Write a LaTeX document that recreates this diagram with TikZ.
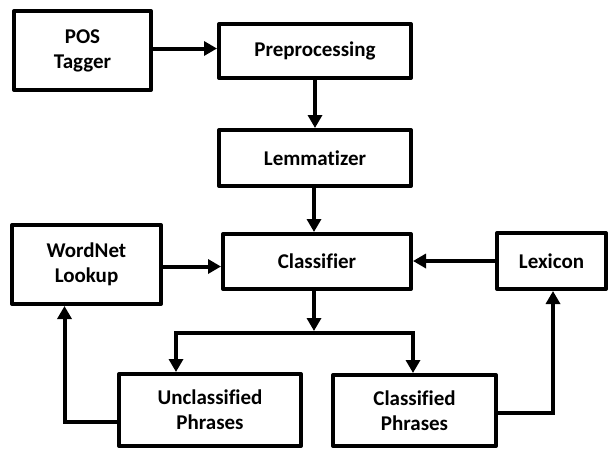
\documentclass[tikz,border=0pt]{standalone}
\usepackage{fontspec}
\setmainfont{Carlito}[Ligatures=CommonOff]
\usetikzlibrary{arrows.meta}
\begin{document}
\begin{tikzpicture}[x=1pt,y=-1pt,
  box/.style={draw, line width=4pt, line join=round, align=center, inner sep=0pt,
    font=\bfseries\fontsize{21}{25}\selectfont},
  conn/.style={line width=4pt, -{Triangle[length=13pt,width=14pt]}},
  plain/.style={line width=4pt}]
\useasboundingbox (0,0) rectangle (610,451);
\node[box, minimum width=137pt, minimum height=79pt] (pos) at (82.5,50.5) {POS\\Tagger};
\node[box, minimum width=192pt, minimum height=54pt] (pre) at (315,51) {Preprocessing};
\node[box, minimum width=192pt, minimum height=56pt] (lem) at (315,158) {Lemmatizer};
\node[box, minimum width=188pt, minimum height=55pt] (cls) at (317,261.5) {Classifier};
\node[box, minimum width=149pt, minimum height=79pt] (wn) at (86.5,264.5) {WordNet\\Lookup};
\node[box, minimum width=109pt, minimum height=56pt] (lex) at (551.5,261) {Lexicon};
\node[box, minimum width=182pt, minimum height=72pt] (unc) at (210,410) {Unclassified\\Phrases};
\node[box, minimum width=163pt, minimum height=71pt] (cp) at (414.5,410.5) {Classified\\Phrases};
\coordinate (br) at (314,333);
\coordinate (brl) at (176,333);
\coordinate (brr) at (413,333);
\draw[conn] ([yshift=2pt]pos.east) -- ([yshift=2pt]pos.east -| pre.west);
\draw[conn] (pre.south) -- (pre.south |- lem.north);
\draw[conn] ([xshift=-1pt]lem.south) -- ([xshift=-1pt]lem.south |- cls.north);
\draw[conn] ([yshift=-2pt]wn.east) -- ([yshift=-2pt]wn.east -| cls.west);
\draw[conn] (lex.west) -- (lex.west -| cls.east);
\draw[conn] (cls.south -| br) -- ([yshift=2pt]br);
\draw[plain] ([xshift=-2pt]brl) -- ([xshift=2pt]brr);
\draw[conn] ([yshift=-2pt]brl) -- (brl |- unc.north);
\draw[conn] ([yshift=-2pt]brr) -- (brr |- cp.north);
\draw[conn] ([yshift=-12pt]unc.west) -| ([xshift=-22pt]wn.south);
\draw[conn] ([yshift=-2.5pt]cp.east) -| ([xshift=1.5pt]lex.south);
\end{tikzpicture}
\end{document}
